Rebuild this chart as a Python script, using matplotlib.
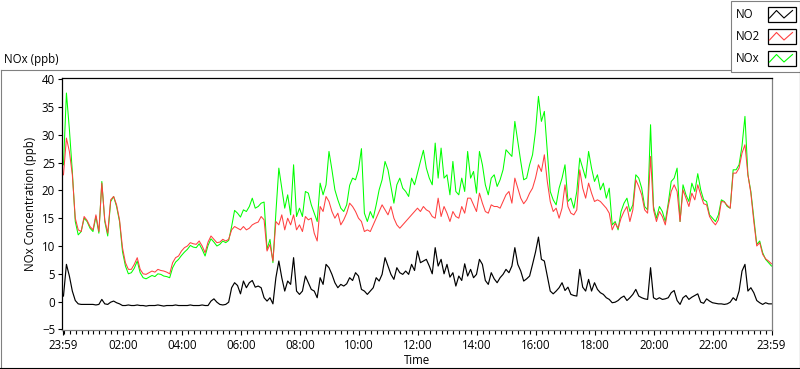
import numpy as np
import matplotlib
matplotlib.use('Agg')
import matplotlib.pyplot as plt
from matplotlib.patches import Rectangle

# readings every 6 minutes, starting at 23:59 of the previous day
minutes = np.arange(0, 1441, 6)

nox = [24.6, 37.5, 31.0, 23.4, 14.4, 12.0, 12.6, 15.0, 14.4, 13.2,
       12.6, 15.3, 12.3, 21.6, 14.4, 11.8, 18.0, 18.9, 17.1, 14.4,
       9.0, 6.4, 5.0, 5.2, 6.0, 7.3, 5.2, 4.3, 4.1, 4.4,
       4.7, 4.5, 5.0, 4.9, 4.6, 4.5, 4.3, 6.1, 7.1, 7.6,
       8.3, 8.9, 9.4, 10.1, 9.8, 9.7, 10.4, 9.4, 8.2, 10.1,
       11.3, 10.7, 10.0, 10.3, 10.9, 10.6, 11.0, 13.5, 16.4, 15.9,
       15.2, 16.5, 16.2, 17.1, 18.6, 16.8, 17.1, 17.7, 17.9, 9.4,
       11.2, 7.0, 16.0, 24.0, 20.4, 16.8, 19.2, 15.6, 24.6, 15.3,
       16.8, 15.3, 19.8, 19.5, 17.4, 15.9, 14.4, 21.3, 19.2, 21.0,
       27.0, 23.7, 20.1, 18.3, 16.8, 16.2, 17.4, 20.9, 22.2, 21.9,
       23.7, 27.5, 15.9, 14.4, 16.2, 15.0, 17.4, 20.1, 21.9, 25.2,
       23.7, 20.7, 17.7, 21.0, 22.2, 20.4, 19.8, 18.9, 22.2, 21.0,
       23.1, 25.2, 27.2, 24.0, 22.2, 21.0, 28.5, 22.2, 27.6, 22.2,
       22.8, 19.2, 25.2, 19.8, 19.2, 22.2, 19.8, 27.0, 22.2, 23.4,
       19.5, 27.0, 24.6, 21.0, 19.2, 22.2, 22.8, 20.7, 21.9, 23.7,
       27.3, 26.7, 26.1, 32.4, 28.8, 25.2, 21.9, 22.2, 24.6, 26.4,
       30.6, 36.9, 32.4, 34.2, 27.0, 19.8, 18.3, 17.4, 20.4, 22.2,
       24.6, 18.0, 18.6, 16.8, 19.8, 25.8, 24.0, 22.2, 27.0, 24.0,
       21.6, 22.8, 20.1, 21.3, 18.6, 20.4, 13.8, 14.4, 12.9, 16.2,
       17.7, 18.6, 16.2, 17.4, 22.8, 22.2, 20.4, 17.1, 16.5, 31.8,
       17.1, 15.0, 17.1, 16.2, 14.4, 17.7, 21.6, 22.2, 24.0, 14.4,
       21.0, 19.2, 18.0, 21.3, 19.8, 23.0, 20.1, 18.3, 18.0, 15.6,
       15.0, 14.4, 15.6, 18.3, 18.0, 17.1, 16.8, 23.7, 23.7, 24.6,
       28.0, 33.3, 22.8, 19.8, 15.0, 10.3, 10.9, 8.8, 7.6, 7.0,
       6.4]

no2 = [22.8, 29.4, 27.0, 22.8, 15.0, 12.9, 12.6, 15.3, 14.6, 13.5,
       12.9, 15.6, 12.6, 21.3, 14.7, 12.3, 18.3, 18.9, 17.4, 14.7,
       9.7, 7.0, 5.8, 5.8, 6.7, 7.9, 5.8, 5.0, 4.9, 5.2,
       5.5, 5.3, 5.8, 5.6, 5.5, 5.3, 5.0, 7.0, 7.9, 8.2,
       9.1, 9.7, 10.0, 10.6, 10.4, 10.3, 10.9, 10.0, 8.8, 10.7,
       11.8, 11.2, 10.6, 10.7, 11.2, 10.9, 11.2, 12.9, 13.5, 13.2,
       12.9, 13.5, 12.9, 13.2, 13.8, 14.1, 14.3, 15.3, 14.7, 9.1,
       10.3, 7.3, 14.4, 13.8, 15.6, 12.9, 15.0, 13.8, 15.6, 12.9,
       13.8, 12.6, 15.3, 14.7, 15.0, 12.3, 10.9, 17.1, 16.2, 18.9,
       18.0, 16.2, 15.0, 15.9, 13.8, 14.7, 15.9, 17.7, 17.1, 16.2,
       15.0, 14.4, 12.6, 12.9, 12.6, 13.8, 15.0, 16.2, 17.4, 16.5,
       15.6, 17.1, 15.0, 13.8, 13.2, 13.8, 14.4, 15.0, 15.6, 16.2,
       16.8, 16.2, 17.1, 16.5, 16.2, 15.3, 15.0, 18.6, 15.3, 17.1,
       15.9, 14.4, 16.2, 15.3, 15.0, 17.1, 15.9, 18.6, 18.6, 17.4,
       16.2, 19.5, 17.7, 16.2, 15.9, 17.4, 17.1, 17.1, 16.8, 18.0,
       19.2, 19.8, 17.7, 22.2, 20.4, 18.6, 17.6, 18.3, 19.5, 20.4,
       22.2, 24.6, 23.4, 26.4, 21.6, 18.0, 16.2, 16.8, 15.0, 16.8,
       21.0, 17.1, 15.9, 15.6, 16.5, 23.7, 20.4, 18.6, 21.3, 19.5,
       18.0, 18.3, 18.0, 17.4, 16.8, 15.9, 12.9, 14.1, 13.2, 15.0,
       16.2, 17.1, 14.4, 16.5, 21.9, 20.7, 19.2, 16.5, 15.9, 26.1,
       16.5, 14.4, 16.2, 15.3, 13.8, 17.1, 19.8, 21.0, 19.8, 14.4,
       20.1, 18.6, 17.1, 19.5, 18.3, 21.0, 19.2, 17.6, 17.4, 15.3,
       14.4, 13.8, 14.7, 18.0, 17.9, 17.3, 16.8, 23.1, 23.1, 24.0,
       26.7, 28.2, 22.8, 19.5, 14.4, 10.0, 10.6, 8.5, 7.7, 7.3,
       6.8]

no = [1.0, 6.7, 4.6, 1.9, 0.2, -0.4, -0.5, -0.5, -0.5, -0.5,
      -0.5, -0.6, -0.5, 0.4, -0.4, -0.5, -0.1, 0.1, -0.2, -0.4,
      -0.7, -0.7, -0.6, -0.7, -0.7, -0.6, -0.7, -0.7, -0.8, -0.7,
      -0.7, -0.7, -0.6, -0.7, -0.8, -0.7, -0.7, -0.7, -0.6, -0.7,
      -0.7, -0.7, -0.7, -0.6, -0.7, -0.7, -0.7, -0.6, -0.7, -0.7,
      0.1, 0.5, -0.1, -0.5, -0.6, -0.5, -0.1, 2.5, 3.4, 2.9,
      1.4, 3.7, 2.5, 3.4, 3.8, 2.6, 2.8, 2.5, 0.7, 0.1,
      0.7, -0.4, 4.3, 7.3, 4.3, 1.9, 3.7, 3.1, 7.9, 1.9,
      1.3, 1.9, 4.6, 3.4, 2.2, 1.9, 0.7, 4.3, 3.1, 6.7,
      6.1, 4.9, 3.4, 2.5, 3.1, 2.8, 3.2, 4.3, 3.8, 5.2,
      4.6, 2.2, 1.9, 1.3, 1.9, 2.5, 4.3, 3.7, 4.9, 7.9,
      6.4, 4.9, 4.0, 6.1, 5.2, 4.9, 5.5, 4.9, 6.7, 5.6,
      9.1, 7.0, 7.3, 7.6, 6.4, 5.0, 9.7, 6.4, 7.6, 5.0,
      6.7, 4.4, 5.2, 2.8, 4.6, 3.8, 6.8, 4.6, 5.8, 4.3,
      4.9, 7.6, 6.7, 3.8, 3.1, 5.2, 4.1, 3.4, 4.3, 4.9,
      5.8, 5.2, 6.4, 9.7, 6.7, 5.5, 3.7, 4.1, 4.6, 6.7,
      8.9, 11.6, 7.6, 7.3, 4.6, 1.9, 1.4, 1.9, 2.5, 3.4,
      2.0, 2.6, 1.3, 1.1, 1.0, 5.8, 2.6, 1.9, 4.0, 1.9,
      3.4, 2.2, 1.6, 1.3, 0.7, 0.4, -0.2, -0.1, 0.2, 0.7,
      1.0, 0.2, 0.7, 1.3, 2.2, 1.0, 0.7, 0.5, 0.4, 6.1,
      0.7, 0.4, 0.7, 0.4, 0.5, 0.7, 1.6, 2.0, 0.2, -0.5,
      0.7, 1.1, 0.4, 0.8, 1.1, 1.4, -0.1, -0.3, 0.5, 0.1,
      -0.2, -0.3, -0.4, -0.4, -0.5, -0.4, -0.1, 0.7, 0.2, 1.9,
      5.5, 6.7, 1.9, 2.5, 1.6, 0.2, -0.2, -0.5, -0.2, -0.4,
      -0.4]

tick_labels = ['23:59', '02:00', '04:00', '06:00', '08:00', '10:00', '12:00',
               '14:00', '16:00', '18:00', '20:00', '22:00', '23:59']
series_names = ['NO', 'NO2', 'NOx']
series_colors = ['#000000', '#ff4040', '#00ff00']

tick_pos = [0] + [60 * h + 1 for h in range(2, 24, 2)] + [1440]

plt.rcParams['font.family'] = ['Open Sans', 'DejaVu Sans']
fs = 8.3
gray = '#808080'

fig = plt.figure(figsize=(8, 3.69), dpi=100)

# pixel-space background for the panel frame, legend and labels
bg = fig.add_axes([0, 0, 1, 1], zorder=0)
bg.set_xlim(0, 800)
bg.set_ylim(369, 0)
bg.axis('off')
bg.plot([0.5, 730.5], [69.5, 69.5], color=gray, lw=0.8)
bg.plot([0.5, 0.5], [69.5, 368], color=gray, lw=0.8)
bg.plot([0, 799.5], [367.5, 367.5], color='black', lw=0.8)
bg.plot([799.5, 799.5], [72, 368], color='black', lw=0.8)
bg.add_patch(Rectangle((730.5, 0.5), 69, 71.5, fill=False, ec=gray, lw=0.8))

bg.text(4, 59, 'NOx (ppb)', fontsize=fs, ha='left', va='center')
bg.text(31, 204, 'NOx Concentration (ppb)', fontsize=fs, rotation=90,
        ha='center', va='center')
bg.text(417, 361, 'Time', fontsize=fs, ha='center', va='center')

for i, (name, col) in enumerate(zip(series_names, series_colors)):
    top = 7 + i * 22
    bg.text(736, top + 7, name, fontsize=fs, ha='left', va='center')
    bg.add_patch(Rectangle((767.5, top), 28, 15, fill=False, ec='black', lw=0.9))
    bg.plot([769.5, 776.5, 784, 792.5], [top + 11, top + 3.5, top + 11, top + 3.5],
            color=col, lw=0.8)

ax = fig.add_axes([62 / 800, 39 / 369, 710 / 800, 252 / 369], zorder=1)
ax.plot(minutes, nox, color=series_colors[2], lw=0.75)
ax.plot(minutes, no2, color=series_colors[1], lw=0.75)
ax.plot(minutes, no, color=series_colors[0], lw=0.85)

ax.set_xlim(-3, 1441)
ax.set_ylim(-5.1, 40.2)
ax.set_yticks(range(-5, 41, 5))
ax.set_xticks(tick_pos)
ax.set_xticklabels(tick_labels)
ax.set_xticks(range(1, 1441, 12), minor=True)
ax.tick_params(axis='y', direction='out', length=3, width=0.8, labelsize=fs, pad=2)
ax.tick_params(axis='x', which='major', direction='out', length=3.8, width=0.8,
               labelsize=fs, pad=2.5)
ax.tick_params(axis='x', which='minor', direction='out', length=2.8, width=0.8)
ax.tick_params(axis='y', which='minor', left=False)

for side in ['left', 'top']:
    ax.spines[side].set_color('black')
for side in ['right', 'bottom']:
    ax.spines[side].set_color(gray)
for sp in ax.spines.values():
    sp.set_linewidth(0.9)

fig.savefig('out.png', dpi=100)
